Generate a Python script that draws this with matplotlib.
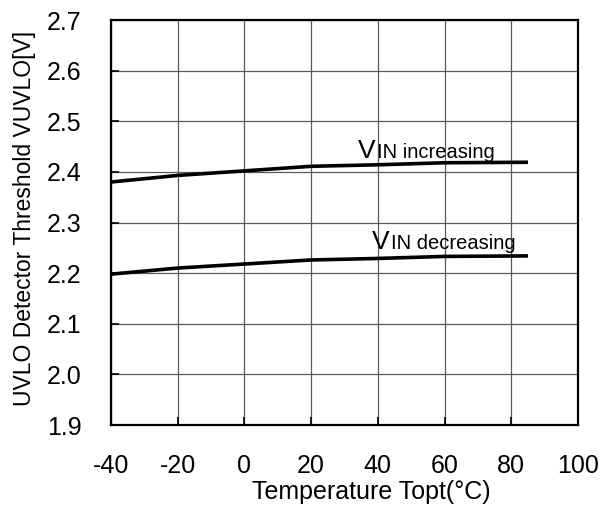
import matplotlib
matplotlib.use('Agg')
from matplotlib import pyplot as plt

plt.rcParams['font.family'] = ['Liberation Sans', 'DejaVu Sans']
plt.rcParams['axes.unicode_minus'] = False

# data
temp = [-40, -20, 0, 20, 40, 60, 85]
v_inc = [2.380, 2.393, 2.402, 2.411, 2.414, 2.418, 2.419]
v_dec = [2.198, 2.210, 2.218, 2.226, 2.229, 2.233, 2.234]

x_ticks = [-40, -20, 0, 20, 40, 60, 80, 100]
y_ticks = [1.9, 2.0, 2.1, 2.2, 2.3, 2.4, 2.5, 2.6, 2.7]
y_tick_labels = ['1.9', '2.0', '2.1', '2.2', '2.3', '2.4', '2.5', '2.6', '2.7']

fig = plt.figure(figsize=(6.01, 5.11), dpi=100)
ax = fig.add_axes([111/601, 86/511, 467/601, 405/511])

ax.plot(temp, v_inc, color='black', lw=2.6, solid_capstyle='butt')
ax.plot(temp, v_dec, color='black', lw=2.6, solid_capstyle='butt')

ax.set_xlim(-40, 100)
ax.set_ylim(1.9, 2.7)
ax.set_xticks(x_ticks)
ax.set_yticks(y_ticks)
ax.set_yticklabels(y_tick_labels)
ax.grid(True, color='#5a5a5a', lw=0.9)
ax.set_axisbelow(True)

ax.tick_params(direction='in', length=6, width=1.2, labelsize=18, pad=21)
for s in ax.spines.values():
    s.set_linewidth(1.6)

ax.set_xlabel('Temperature Topt(°C)', fontsize=18)
ax.xaxis.set_label_coords(0.557, -0.135)
ax.set_ylabel('UVLO Detector Threshold VUVLO[V]', fontsize=16.5)
ax.yaxis.set_label_coords(-0.16, 0.509)

# curve labels: big "V", smaller rest on same baseline
ax.text(34.1, 2.4277, 'V', fontsize=19, va='baseline')
ax.annotate('IN increasing', xy=(34.1, 2.4277), xytext=(13.5, 0),
            textcoords='offset points', fontsize=14.5, va='baseline')
ax.text(38.3, 2.2475, 'V', fontsize=19, va='baseline')
ax.annotate('IN decreasing', xy=(38.3, 2.2475), xytext=(13.5, 0),
            textcoords='offset points', fontsize=14.5, va='baseline')

fig.savefig('out.png', dpi=100)
